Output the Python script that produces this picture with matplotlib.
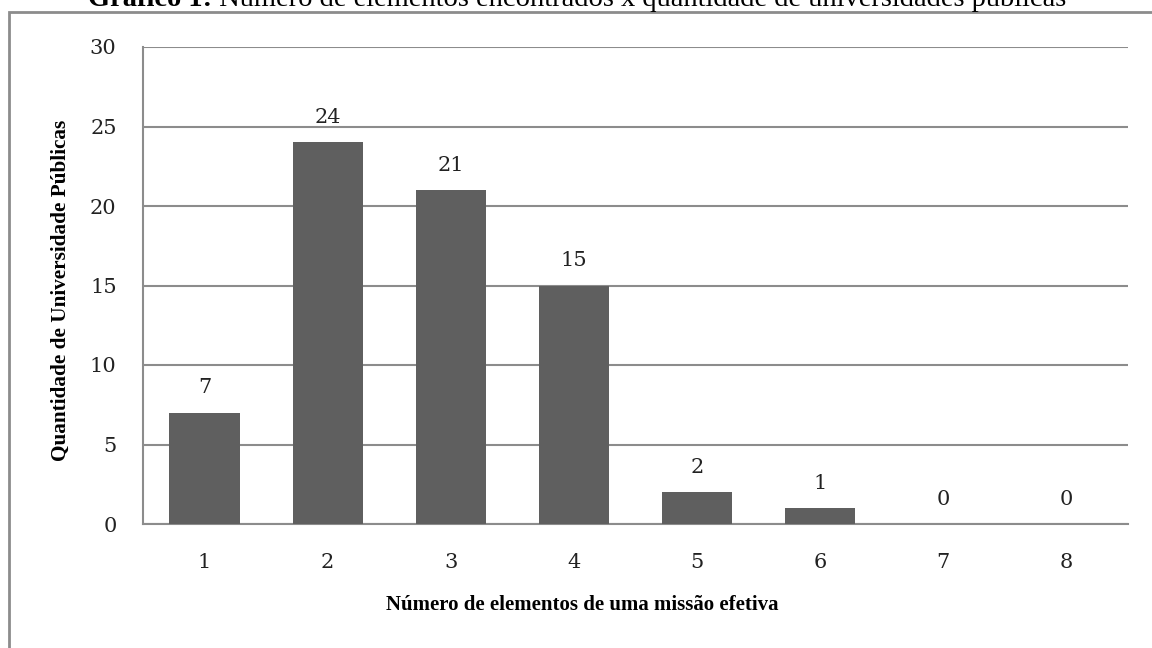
import matplotlib.pyplot as plt
from matplotlib.patches import Rectangle

categorias = [1, 2, 3, 4, 5, 6, 7, 8]
quantidades = [7, 24, 21, 15, 2, 1, 0, 0]
y_ticks = [0, 5, 10, 15, 20, 25, 30]

titulo_bold = "Gráfico 1:"
titulo_resto = " Número de elementos encontrados x quantidade de universidades públicas"
x_label = "Número de elementos de uma missão efetiva"
y_label = "Quantidade de Universidade Públicas"

bar_color = "#5f5f5f"
axis_color = "#8c8c8c"
num_font = "DejaVu Serif"
txt_font = "Liberation Serif"

fig = plt.figure(figsize=(11.52, 6.48), dpi=100)
ax = fig.add_axes([143 / 1152, 1 - 524 / 648, (1128 - 143) / 1152, (524 - 47) / 648])

ax.bar(categorias, quantidades, width=0.57, color=bar_color, zorder=3)
for x, v in zip(categorias, quantidades):
    ax.annotate(str(v), (x, v), xytext=(0, 11), textcoords="offset points",
                ha="center", va="bottom", fontsize=15, family=num_font, color="#222222")

ax.set_xlim(0.5, 8.5)
ax.set_ylim(0, 30)
ax.set_xticks(categorias)
ax.set_yticks(y_ticks)
ax.tick_params(axis="both", length=0, labelsize=15, colors="#222222")
ax.tick_params(axis="x", pad=21)
ax.tick_params(axis="y", pad=19)
for lab in ax.get_xticklabels() + ax.get_yticklabels():
    lab.set_family(num_font)

ax.grid(axis="y", color=axis_color, linewidth=1.5, zorder=0)
for s in ["top", "right"]:
    ax.spines[s].set_visible(False)
for s in ["left", "bottom"]:
    ax.spines[s].set_color(axis_color)
    ax.spines[s].set_linewidth(1.5)

fig.text(582 / 1152, 1 - 605 / 648, x_label, ha="center", va="center",
         fontsize=15, fontweight="bold", family=txt_font)
fig.text(61 / 1152, 1 - 290 / 648, y_label, ha="center", va="center", rotation=90,
         fontsize=15.3, fontweight="bold", family=txt_font)

# outer frame of the figure (runs off the right and bottom edges)
fig.patches.append(Rectangle((9 / 1152, -0.1), 1.1, (1 - 12 / 648) + 0.1,
                             transform=fig.transFigure, fill=False,
                             edgecolor=axis_color, linewidth=2))

# title is cut off at the top of the image, as in the source
t1 = fig.text(88 / 1152, 1 - 6 / 648, titulo_bold, ha="left", va="baseline",
              fontsize=20.5, fontweight="bold", family=txt_font)
fig.canvas.draw()
bb = t1.get_window_extent()
fig.text(bb.x1 / 1152, 1 - 6 / 648, titulo_resto, ha="left", va="baseline",
         fontsize=20.5, family=txt_font)

fig.savefig("out.png", dpi=100)
